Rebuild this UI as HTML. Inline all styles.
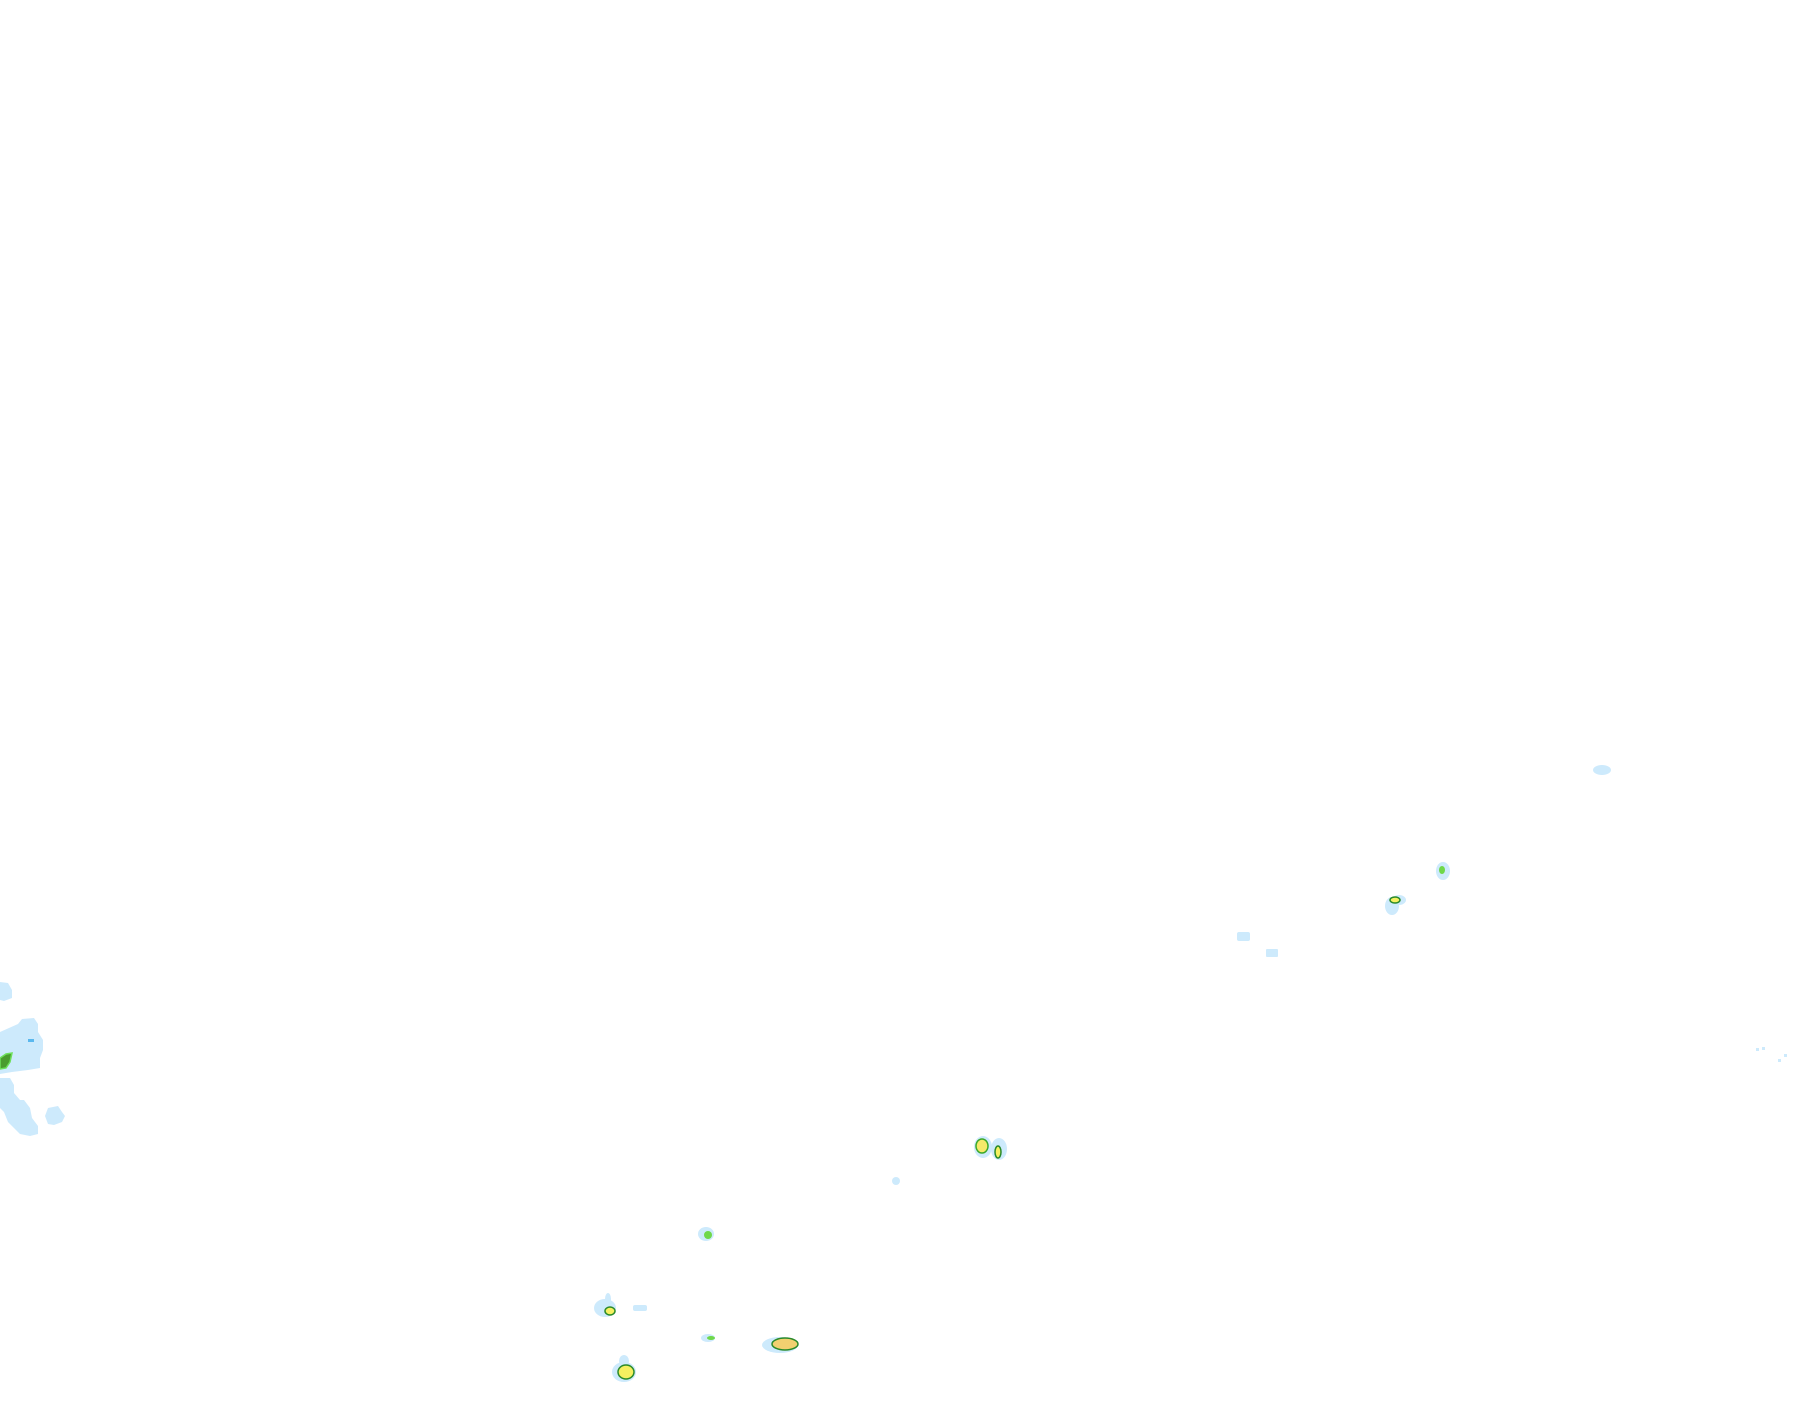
<!DOCTYPE html>
<html><head><meta charset="utf-8"><style>html,body{margin:0;padding:0;background:#fff}svg{display:block}</style></head>
<body>
<svg width="1815" height="1424" viewBox="0 0 1815 1424" xmlns="http://www.w3.org/2000/svg">
<g fill="#cdeafc">
<path d="M0 982 L8 983 L12 990 L12 998 L4 1001 L0 1000 Z"/>
<path d="M0 1032 L18 1024 L22 1019 L34 1018 L38 1024 L38 1032 L43 1040 L43 1050 L40 1058 L40 1068 L28 1070 L12 1072 L0 1074 Z"/>
<path d="M0 1078 L10 1078 L14 1085 L14 1093 L20 1100 L24 1100 L30 1108 L32 1118 L38 1126 L38 1134 L30 1136 L20 1134 L14 1128 L8 1122 L4 1112 L0 1108 Z"/>
<path d="M48 1108 L58 1106 L62 1112 L65 1116 L62 1122 L54 1125 L48 1124 L45 1116 Z"/>
</g>
<g transform="translate(-5,-6)">
<g fill="#cdeafc">
<ellipse cx="988" cy="1153" rx="9" ry="11"/>
<ellipse cx="1004" cy="1155" rx="8" ry="11"/>
<ellipse cx="901" cy="1187" rx="4" ry="4"/>
<ellipse cx="711" cy="1240" rx="8" ry="7"/>
<ellipse cx="610" cy="1314" rx="11" ry="9"/>
<ellipse cx="613" cy="1305" rx="3" ry="6"/>
<rect x="638" y="1311" width="14" height="6" rx="2"/>
<ellipse cx="713" cy="1344" rx="7" ry="4"/>
<ellipse cx="785" cy="1351" rx="18" ry="8"/>
<ellipse cx="629" cy="1378" rx="12" ry="10"/>
<ellipse cx="629" cy="1367" rx="5" ry="6"/>
</g>
<ellipse cx="987" cy="1152" rx="6" ry="7" fill="#f5e96a" stroke="#3aa82a" stroke-width="1.5"/>
<ellipse cx="1003" cy="1158" rx="3" ry="6" fill="#f5f060" stroke="#2a8a2a" stroke-width="1.5"/>
<ellipse cx="713" cy="1241" rx="4" ry="4" fill="#6fd84a"/>
<ellipse cx="615" cy="1317" rx="5" ry="4" fill="#f5f060" stroke="#2a8a2a" stroke-width="1.5"/>
<ellipse cx="716" cy="1344" rx="4" ry="2" fill="#6fd84a"/>
<ellipse cx="790" cy="1350" rx="13" ry="6" fill="#f2d070" stroke="#2a8a2a" stroke-width="1.5"/>
<ellipse cx="631" cy="1378" rx="8" ry="7" fill="#f5f060" stroke="#2a8a2a" stroke-width="1.5"/>
</g>
<g transform="translate(-6,-6)">
<g fill="#cdeafc">
<ellipse cx="1608" cy="776" rx="9" ry="5"/>
<ellipse cx="1449" cy="877" rx="7" ry="9"/>
<ellipse cx="1398" cy="912" rx="7" ry="9"/>
<ellipse cx="1405" cy="906" rx="7" ry="5"/>
<rect x="1243" y="938" width="13" height="9" rx="2"/>
<rect x="1272" y="955" width="12" height="8" rx="1"/>
<rect x="1762" y="1054" width="3" height="3"/><rect x="1768" y="1053" width="3" height="3"/>
<rect x="1784" y="1065" width="3" height="3"/><rect x="1790" y="1060" width="3" height="3"/>
</g>
<ellipse cx="1448" cy="876" rx="3" ry="4" fill="#6fd84a"/>
<ellipse cx="1401" cy="906" rx="5" ry="3" fill="#f5f060" stroke="#2a8a2a" stroke-width="1.5"/>
</g>
<rect x="28" y="1039" width="6" height="3" fill="#5ab8ee"/>
<path d="M0 1058 L6 1054 L12 1053 L10 1062 L6 1068 L0 1069 Z" fill="#4a9c2e" stroke="#6ee05a" stroke-width="1.5"/>
</svg>
</body></html>
